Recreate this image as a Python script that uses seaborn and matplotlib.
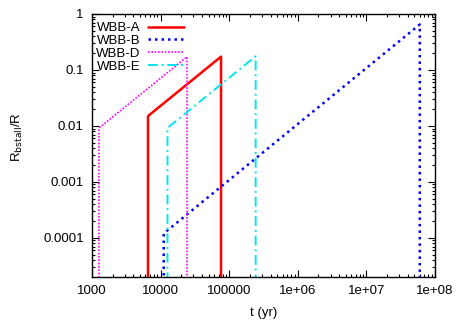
import matplotlib
matplotlib.use("Agg")
import matplotlib.pyplot as plt
import seaborn as sns
import pandas as pd
import numpy as np
from matplotlib.ticker import LogLocator, FixedLocator, FixedFormatter, NullFormatter

sns.set_style("ticks")
plt.rcParams['font.family'] = ['Liberation Sans', 'DejaVu Sans']
for k in ["text.color", "axes.labelcolor", "xtick.color", "ytick.color", "axes.edgecolor"]:
    plt.rcParams[k] = "black"

BOT = 1e-6
series_names = ["WBB-A", "WBB-B", "WBB-D", "WBB-E"]
t_A = [6550, 6550, 76000, 76000]
r_A = [BOT, 0.015, 0.173, BOT]
t_B = [11100, 11100, 6.0e7, 6.0e7]
r_B = [BOT, 1.2e-4, 0.65, BOT]
t_D = [1265, 1265, 24300, 24300]
r_D = [BOT, 0.0092, 0.172, BOT]
t_E = [12600, 12600, 243000, 243000]
r_E = [BOT, 0.0092, 0.176, BOT]

xticks = [1e3, 1e4, 1e5, 1e6, 1e7, 1e8]
xlabels = ["1000", "10000", "100000", "1e+06", "1e+07", "1e+08"]
yticks = [1e-4, 1e-3, 1e-2, 1e-1, 1]
ylabels = ["0.0001", "0.001", "0.01", "0.1", "1"]

fig = plt.figure(figsize=(4.58, 3.2), dpi=100)
ax = fig.add_axes([92/458, 1-277/320, (435-92)/458, (277-14)/320])

styles = {
    "WBB-A": dict(color="#ff0000", lw=1.8, ls="-"),
    "WBB-B": dict(color="#0000ff", lw=1.8, ls=(0, (1, 1.6))),
    "WBB-D": dict(color="#ff00ff", lw=1.2, ls=(0, (1, 1))),
    "WBB-E": dict(color="#00e5ee", lw=1.4, ls=(0, (5, 2, 1, 2))),
}
data = {"WBB-A": (t_A, r_A), "WBB-B": (t_B, r_B), "WBB-D": (t_D, r_D), "WBB-E": (t_E, r_E)}
for name in series_names:
    t, r = data[name]
    df = pd.DataFrame({"t": t, "r": r})
    st = styles[name]
    sns.lineplot(data=df, x="t", y="r", sort=False, ax=ax, color=st["color"],
                 linewidth=st["lw"], linestyle=st["ls"], label=name, estimator=None)

ax.set_xscale("log")
ax.set_yscale("log")
ax.set_xlim(1e3, 1e8)
ax.set_ylim(2e-5, 1)
ax.xaxis.set_major_locator(FixedLocator(xticks))
ax.xaxis.set_major_formatter(FixedFormatter(xlabels))
ax.yaxis.set_major_locator(FixedLocator(yticks))
ax.yaxis.set_major_formatter(FixedFormatter(ylabels))
ax.xaxis.set_minor_locator(LogLocator(base=10, subs=np.arange(2, 10), numticks=20))
ax.yaxis.set_minor_locator(LogLocator(base=10, subs=np.arange(2, 10), numticks=20))
ax.xaxis.set_minor_formatter(NullFormatter())
ax.yaxis.set_minor_formatter(NullFormatter())
ax.tick_params(which="both", direction="in", top=True, right=True, labelsize=9.5, width=0.8,
               colors="black")
ax.tick_params(which="major", length=5, pad=6)
ax.tick_params(which="minor", length=2.5)
for sp in ax.spines.values():
    sp.set_linewidth(1.0)
    sp.set_color("black")

ax.set_xlabel("t (yr)", fontsize=9.5, labelpad=7, color="black")
ax.set_ylabel("")
fig.text(17/458, 1-137/320, r"R$_{\mathrm{bstall}}$/R", fontsize=9.5, rotation=90,
         ha="center", va="center", color="black")

leg = ax.legend(loc="upper left", bbox_to_anchor=(0.007, 0.975), markerfirst=False,
                frameon=False, fontsize=9.5, handlelength=2.7, handletextpad=0.6,
                borderaxespad=0.0, labelspacing=0.05, borderpad=0.1)
for txt in leg.get_texts():
    txt.set_color("black")
fig.savefig("out.png", dpi=100)
